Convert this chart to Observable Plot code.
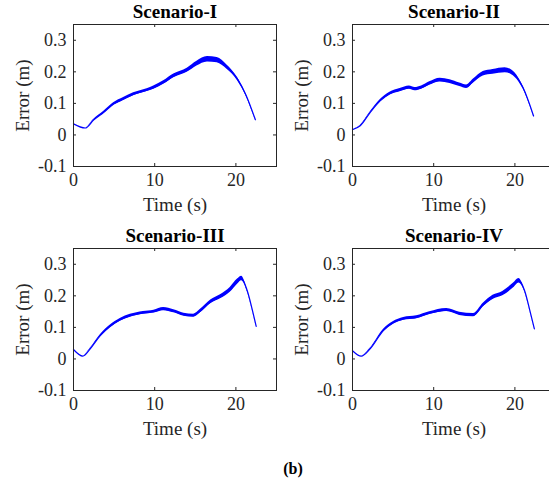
<!DOCTYPE html>
<html><head><meta charset="utf-8">
<script src="https://cdn.jsdelivr.net/npm/d3@7"></script>
<script src="https://cdn.jsdelivr.net/npm/@observablehq/plot@0.6"></script>
<style>
body{margin:0;background:#fff;}
#fig{position:relative;width:549px;height:493px;overflow:hidden;background:#fff;font-family:"Liberation Serif","Times New Roman",serif;}
.panel{position:absolute;width:287px;height:216px;}
.panel svg{max-width:none !important;width:287px;height:216px;display:block;}
#cap{position:absolute;left:243px;width:100px;top:461px;line-height:16px;text-align:center;font-weight:bold;font-size:16px;color:#000;}
</style></head>
<body>
<div id="fig"></div>
<script>
const titles = ["Scenario-I", "Scenario-II", "Scenario-III", "Scenario-IV"];
const xLabel = "Time (s)";
const yLabel = "Error (m)";
const caption = "(b)";
const xTicks = [0, 10, 20];
const yTicks = [-0.1, 0, 0.1, 0.2, 0.3];

const tI = [0, 1.44, 2.47, 3.7, 4.94, 6.17, 7.4, 9.06, 9.88, 11.1, 12.35, 14, 15.2, 16.5, 17.7, 18.9, 20.2, 21.2, 22.4];
const eI = [0.035, 0.022, 0.047, 0.071, 0.098, 0.114, 0.129, 0.142, 0.150, 0.166, 0.187, 0.205, 0.226, 0.240, 0.237, 0.215, 0.177, 0.129, 0.048];
const sI = [0, 0, 0.004, 0.006, 0.008, 0.009, 0.009, 0.009, 0.010, 0.011, 0.012, 0.013, 0.015, 0.017, 0.017, 0.014, 0.010, 0.006, 0.002];

const tII = [0, 0.95, 2.17, 3.4, 4.6, 5.86, 7.0, 7.7, 8.5, 9.5, 10.8, 12.0, 13.2, 14.05, 14.9, 16.1, 17.3, 18.8, 20.0, 21.0, 22.3];
const eII = [0.017, 0.029, 0.071, 0.108, 0.131, 0.142, 0.150, 0.145, 0.150, 0.163, 0.174, 0.169, 0.159, 0.153, 0.171, 0.194, 0.200, 0.205, 0.190, 0.150, 0.060];
const sII = [0, 0.002, 0.004, 0.007, 0.009, 0.010, 0.010, 0.010, 0.010, 0.011, 0.012, 0.012, 0.011, 0.011, 0.012, 0.014, 0.015, 0.016, 0.014, 0.008, 0.002];

const tIII = [0, 1.15, 2.06, 3.3, 4.5, 5.76, 7.0, 8.6, 9.9, 11.1, 12.35, 13.6, 14.8, 15.6, 16.9, 18.1, 19.3, 20.2, 20.7, 21.4, 22.0, 22.5];
const eIII = [0.030, 0.009, 0.032, 0.074, 0.103, 0.124, 0.137, 0.146, 0.150, 0.158, 0.151, 0.140, 0.137, 0.151, 0.181, 0.197, 0.219, 0.245, 0.255, 0.216, 0.158, 0.103];
const sIII = [0, 0, 0.003, 0.006, 0.008, 0.009, 0.009, 0.009, 0.009, 0.010, 0.010, 0.010, 0.010, 0.011, 0.012, 0.013, 0.015, 0.016, 0.014, 0.005, 0.002, 0.001];

const tIV = [0, 1.07, 2.17, 3.8, 5.0, 6.3, 7.9, 9.5, 11.6, 13.2, 14.9, 16.1, 17.3, 18.5, 19.8, 20.5, 21.2, 21.8, 22.4];
const eIV = [0.026, 0.009, 0.032, 0.090, 0.114, 0.127, 0.132, 0.145, 0.155, 0.143, 0.139, 0.171, 0.195, 0.207, 0.232, 0.248, 0.216, 0.158, 0.095];
const sIV = [0, 0, 0.003, 0.007, 0.008, 0.009, 0.009, 0.009, 0.010, 0.010, 0.010, 0.011, 0.013, 0.014, 0.015, 0.014, 0.005, 0.002, 0.001];

const series = [[tI, eI, sI], [tII, eII, sII], [tIII, eIII, sIII], [tIV, eIV, sIV]];
const positions = [[0, 0], [279, 0], [0, 224], [279, 224]];

const FONT = "'Liberation Serif', 'Times New Roman', serif";
const INK = "#262626";
const BLUE = "#0000ff";
const W = 287, H = 216, ML = 73, MR = 11, MT = 24, MB = 50;
const FW = W - ML - MR, FH = H - MT - MB;

function panel(title, t, e, s) {
  const data = t.map((ti, i) => ({t: ti, v: e[i], lo: e[i] - s[i] / 2, hi: e[i] + s[i] / 2}));
  return Plot.plot({
    width: W, height: H, marginLeft: ML, marginRight: MR, marginTop: MT, marginBottom: MB,
    style: {fontFamily: FONT, background: "transparent", color: INK, overflow: "visible"},
    x: {domain: [0, 25]},
    y: {domain: [-0.1, 0.35]},
    marks: [
      Plot.areaY(data, {x: "t", y1: "lo", y2: "hi", fill: BLUE, curve: "monotone-x"}),
      Plot.line(data, {x: "t", y: "v", stroke: BLUE, strokeWidth: 1.2, curve: "monotone-x"}),
      Plot.tickX(xTicks, {x: d => d, stroke: INK, insetTop: FH - 3}),
      Plot.tickX(xTicks, {x: d => d, stroke: INK, insetBottom: FH - 3}),
      Plot.tickY(yTicks, {y: d => d, stroke: INK, insetRight: FW - 3}),
      Plot.tickY(yTicks, {y: d => d, stroke: INK, insetLeft: FW - 3}),
      Plot.frame({stroke: INK, strokeWidth: 1}),
      Plot.axisX(xTicks, {anchor: "bottom", tickSize: 0, tickPadding: 7, fontSize: 18, fill: INK, fontFamily: FONT, tickFormat: d => String(d), label: null}),
      Plot.axisY(yTicks, {anchor: "left", tickSize: 0, tickPadding: 7, fontSize: 18, fill: INK, fontFamily: FONT, tickFormat: d => String(d), label: null}),
      Plot.text([title], {text: d => d, frameAnchor: "top", lineAnchor: "middle", textAnchor: "middle", dy: -13, fontSize: 19, fontWeight: "bold", fill: "#000", fontFamily: FONT}),
      Plot.text([xLabel], {text: d => d, frameAnchor: "bottom", lineAnchor: "middle", textAnchor: "middle", dy: 38, fontSize: 19, fill: INK, fontFamily: FONT}),
      Plot.text([yLabel], {text: d => d, frameAnchor: "left", lineAnchor: "middle", textAnchor: "middle", dx: -51, rotate: -90, fontSize: 19, fill: INK, fontFamily: FONT})
    ]
  });
}

const fig = document.getElementById("fig");
series.forEach(([t, e, s], i) => {
  const div = document.createElement("div");
  div.className = "panel";
  div.style.left = positions[i][0] + "px";
  div.style.top = positions[i][1] + "px";
  div.appendChild(panel(titles[i], t, e, s));
  fig.appendChild(div);
});
const cap = document.createElement("div");
cap.id = "cap";
cap.textContent = caption;
fig.appendChild(cap);
</script>
</body></html>
